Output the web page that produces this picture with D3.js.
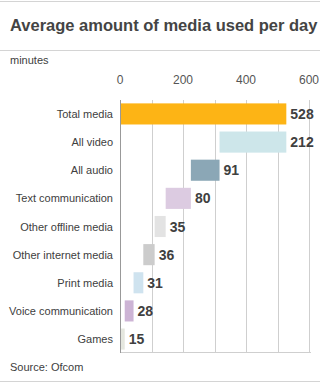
<!DOCTYPE html>
<html>
<head>
<meta charset="utf-8">
<script src="https://cdn.jsdelivr.net/npm/d3@7"></script>
<style>
body { margin: 0; background: #fff; }
text { font-family: "Liberation Sans", Arial, sans-serif; }
</style>
</head>
<body>
<div id="chart"></div>
<script>
var w = 320;
var h = 384;

var categories = ["Total media", "All video", "All audio", "Text communication", "Other offline media",
                  "Other internet media", "Print media", "Voice communication", "Games"];
var values = [528, 212, 91, 80, 35, 36, 31, 28, 15];
var colors = ["#fdb415", "#cde6ea", "#8ba7b6", "#dccbe1", "#e3e3e3", "#cccccc", "#cfe3ef", "#cdb4d5", "#e5e7df"];
var ticks = [0, 200, 400, 600];

// waterfall: first bar is the total, the rest step down from it
var rows = [];
var remaining = values[0];
values.forEach(function(v, i) {
    if (i == 0) {
        rows.push({name: categories[i], val: v, x0: 0, x1: v, color: colors[i]});
    } else {
        rows.push({name: categories[i], val: v, x0: remaining - v, x1: remaining, color: colors[i]});
        remaining = remaining - v;
    }
});

var xScale = d3.scaleLinear()
                .domain([0, 600])
                .range([120, 309]);

var yScale = d3.scaleBand()
                .domain(categories)
                .range([100, 353])
                .paddingInner(0.25)
                .paddingOuter(0.12);

var svg = d3.select("#chart")
            .append("svg")
            .attr("width", w)
            .attr("height", h);

// frame lines
svg.append("line").attr("x1", 0).attr("x2", w).attr("y1", 1.5).attr("y2", 1.5)
    .attr("stroke", "#d4d4d4");
svg.append("line").attr("x1", 0).attr("x2", w).attr("y1", 50.5).attr("y2", 50.5)
    .attr("stroke", "#d4d4d4");
svg.append("line").attr("x1", 0).attr("x2", w).attr("y1", 381.5).attr("y2", 381.5)
    .attr("stroke", "#d4d4d4");

svg.append("text")
    .text("Average amount of media used per day")
    .attr("x", 10)
    .attr("y", 31)
    .attr("font-size", "16.5px")
    .attr("font-weight", "bold")
    .attr("fill", "#444");

svg.append("text")
    .text("minutes")
    .attr("x", 10)
    .attr("y", 64)
    .attr("font-size", "11px")
    .attr("fill", "#404040");

// gridlines every 100
svg.selectAll("line.grid")
    .data(d3.range(100, 601, 100))
    .enter()
    .append("line")
    .attr("class", "grid")
    .attr("x1", function(d) { return Math.round(xScale(d)) + 0.5; })
    .attr("x2", function(d) { return Math.round(xScale(d)) + 0.5; })
    .attr("y1", 100)
    .attr("y2", 353)
    .attr("stroke", "#cfcfcf");

svg.append("line").attr("x1", 120).attr("x2", 311).attr("y1", 352.5).attr("y2", 352.5)
    .attr("stroke", "#cfcfcf");

// tick labels
svg.selectAll("text.tick")
    .data(ticks)
    .enter()
    .append("text")
    .attr("class", "tick")
    .text(function(d) { return d; })
    .attr("x", function(d) { return xScale(d); })
    .attr("y", 84)
    .attr("text-anchor", "middle")
    .attr("font-size", "12px")
    .attr("fill", "#555");

// bars
svg.selectAll("rect")
    .data(rows)
    .enter()
    .append("rect")
    .attr("x", function(d) { return xScale(d.x0); })
    .attr("y", function(d) { return yScale(d.name); })
    .attr("width", function(d) { return xScale(d.x1) - xScale(d.x0); })
    .attr("height", yScale.bandwidth())
    .attr("fill", function(d) { return d.color; });

// axis line
svg.append("line").attr("x1", 120.5).attr("x2", 120.5).attr("y1", 100).attr("y2", 353)
    .attr("stroke", "#999");

// category labels
svg.selectAll("text.cat")
    .data(rows)
    .enter()
    .append("text")
    .attr("class", "cat")
    .text(function(d) { return d.name; })
    .attr("x", 113)
    .attr("y", function(d) { return yScale(d.name) + yScale.bandwidth() / 2 + 4; })
    .attr("text-anchor", "end")
    .attr("font-size", "11px")
    .attr("fill", "#404040");

// value labels
svg.selectAll("text.val")
    .data(rows)
    .enter()
    .append("text")
    .attr("class", "val")
    .text(function(d) { return d.val; })
    .attr("x", function(d) { return xScale(d.x1) + 4; })
    .attr("y", function(d) { return yScale(d.name) + yScale.bandwidth() / 2 + 5; })
    .attr("font-size", "14px")
    .attr("font-weight", "bold")
    .attr("fill", "#404040");

svg.append("text")
    .text("Source: Ofcom")
    .attr("x", 10)
    .attr("y", 371)
    .attr("font-size", "11px")
    .attr("fill", "#404040");
</script>
</body>
</html>
